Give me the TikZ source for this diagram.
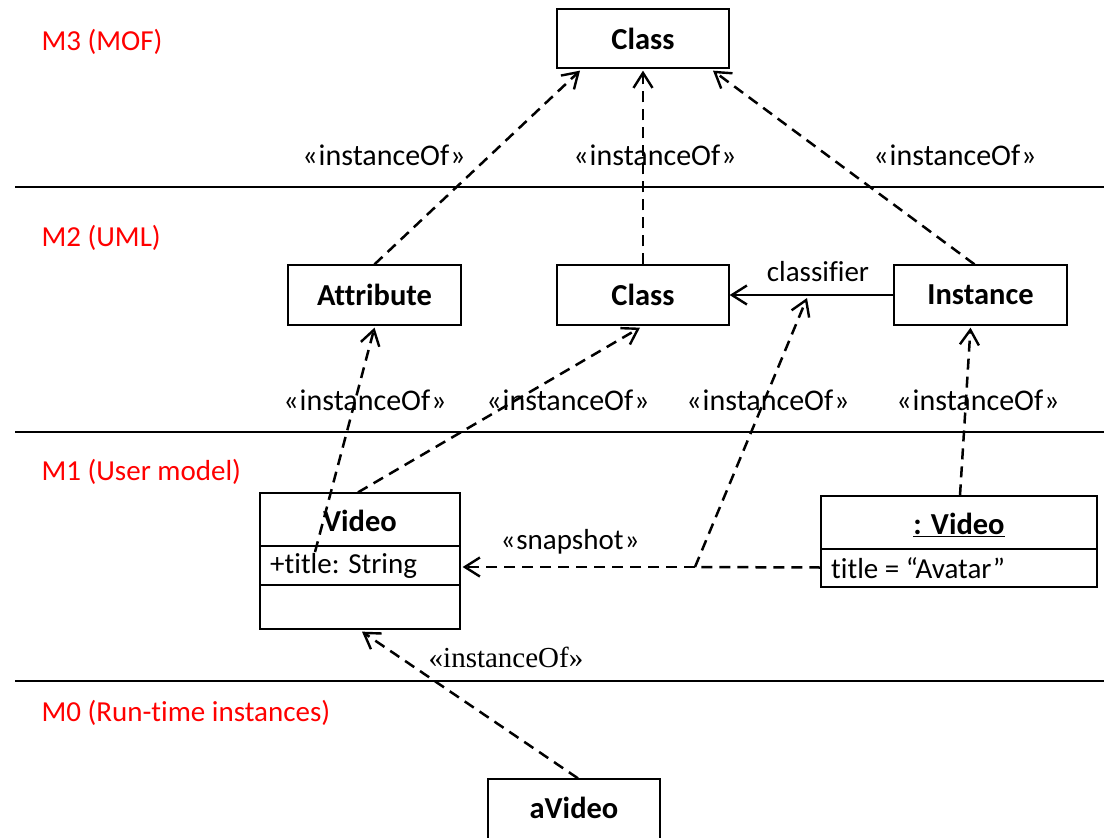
\documentclass[tikz,border=0pt]{standalone}
\usepackage{fontspec}
\setmainfont{Carlito}[Ligatures=NoCommon]
\newfontfamily\timesf{Liberation Serif}
\usetikzlibrary{arrows.meta}
\newcommand{\instof}{«\kern1pt instanceOf\kern1pt»}
\begin{document}
\begin{tikzpicture}[x=1pt,y=-1pt,
  every node/.style={font=\fontsize{29}{34}\selectfont},
  box/.style={draw,line width=1.3pt,inner sep=0pt,font=\fontsize{30.5}{34}\selectfont\bfseries},
  lvl/.style={text=red,anchor=west},
  layer/.style={line width=1.6pt},
  tip/.style={-{Straight Barb[length=15pt,width=19pt,line width=2.4pt]}},
  dashline/.style={line width=2.5pt,dash pattern=on 11pt off 7pt},
  dep/.style={dashline,tip},
  assoc/.style={line width=2.2pt,tip},
  lbl/.style={inner sep=0pt},
  bold/.style={lbl,font=\fontsize{30.5}{34}\selectfont\bfseries},
  io/.style={lbl,font=\fontsize{30}{34}\selectfont}]
\useasboundingbox (0,0) rectangle (1104,838);

% metalevel separators
\draw[layer] (15,187) -- (1104,187);
\draw[layer] (15,432) -- (1104,432);
\draw[layer] (15,681) -- (1104,681);

% metalevel names
\node[lvl] (m3) at (38,42) {M3 (MOF)};
\node[lvl] (m2) at (38,238) {M2 (UML)};
\node[lvl] (m1) at (38,472) {M1 (User model)};
\node[lvl] (m0) at (38,713) {M0 (Run-time instances)};

% M3
\node[box,minimum width=172pt,minimum height=59pt] (c3) at (643,38.5) {Class};

% M2
\node[box,minimum width=173pt,minimum height=60pt] (attr) at (374.5,295) {Attribute};
\node[box,minimum width=172pt,minimum height=60pt] (c2) at (643,295) {Class};
\node[box,minimum width=173pt,minimum height=60pt] (inst) at (980.5,295) {Instance};

% M1: class Video
\node[box,minimum width=200pt,minimum height=136pt] (video) at (360,561) {};
\draw[line width=1.3pt] (260,546) -- (460,546);
\draw[line width=1.3pt] (260,585) -- (460,585);
\node[bold] (vname) at (360,521) {Video};
\node[lbl,anchor=west] (vattr) at (270,566) {+title: String};

% M1: object :Video
\node[box,minimum width=276pt,minimum height=91pt] (ovideo) at (959,541.5) {};
\draw[line width=1.3pt] (821,549) -- (1097,549);
\node[bold] (oname) at (959,525) {\underline{: Video}};
\node[lbl,anchor=west] (oattr) at (831,568) {title = “Avatar”};

% M0
\node[box,minimum width=172pt,minimum height=60pt] (avideo) at (574,809) {};
\node[bold] (aname) at (574,808) {aVideo};

% helper points
\coordinate (vstart) at (315,552);
\coordinate (junc) at (695,567);
\coordinate (onassoc) at (807,298);

% instanceOf dependencies M2 -> M3
\draw[dep] (attr.north) -- ([xshift=-63pt,yshift=-2pt]c3.south);
\draw[dep] (c2.north) -- ([yshift=-2pt]c3.south);
\draw[dep] ([xshift=-6pt]inst.north) -- ([xshift=70pt,yshift=-2pt]c3.south);
\node[io] (l1) at (384,155) {\instof};
\node[io] (l2) at (655,155) {\instof};
\node[io] (l3) at (955,155) {\instof};

% classifier association
\draw[assoc] (inst.west) -- (c2.east);
\node[lbl] (lc) at (818,272) {classifier};

% instanceOf dependencies M1 -> M2
\draw[dep] (vstart) -- ([yshift=-2pt]attr.south);
\draw[dep] ([xshift=-2pt]video.north) -- ([xshift=-3pt,yshift=-2pt]c2.south);
\draw[dep] ([xshift=1pt]ovideo.north) -- ([xshift=-10pt,yshift=-2pt]inst.south);
\draw[dep] (junc) -- (onassoc);
\node[io] (l4) at (365,400) {\instof};
\node[io] (l5) at (568,400) {\instof};
\node[io] (l6) at (768,400) {\instof};
\node[io] (l7) at (978,400) {\instof};

% snapshot
\draw[dashline] ([yshift=-26pt]ovideo.west) -- (junc);
\draw[dep] (junc) -- ([xshift=2pt,yshift=-6pt]video.east);
\node[lbl] (ls) at (570,542) {«\kern1pt snapshot\kern1pt»};

% instanceOf M0 -> M1
\draw[dep] ([xshift=4pt]avideo.north) -- ([xshift=2pt,yshift=-2pt]video.south);
\node[lbl,font=\fontsize{29}{34}\selectfont\timesf] (l8) at (506,657) {«instanceOf»};
\end{tikzpicture}
\end{document}
